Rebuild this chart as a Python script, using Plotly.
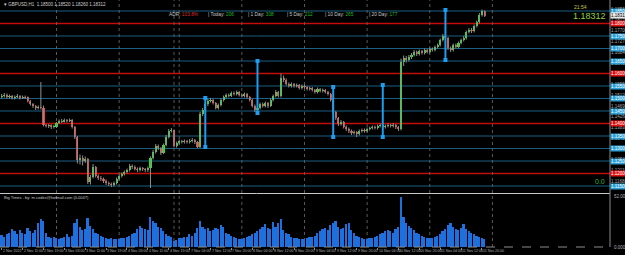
import plotly.graph_objects as go

# ---------------- data ----------------
opens = [
1.1506,1.1510,1.1514,1.1506,1.1510,1.1502,1.1506,1.1510,1.1502,1.1506,
1.1505,1.1490,1.1478,1.1470,1.1462,1.1466,1.1464,1.1394,1.1390,1.1392,
1.1386,1.1388,1.1402,1.1410,1.1408,1.1414,1.1410,1.1414,1.1386,1.1346,
1.1254,1.1262,1.1250,1.1258,1.1166,1.1186,1.1226,1.1190,1.1182,1.1178,
1.1170,1.1162,1.1158,1.1154,1.1162,1.1178,1.1190,1.1198,1.1206,1.1214,
1.1230,1.1226,1.1218,1.1214,1.1222,1.1218,1.1214,1.1222,1.1262,1.1286,
1.1310,1.1302,1.1282,1.1314,1.1346,1.1370,1.1374,1.1310,1.1322,1.1330,
1.1326,1.1330,1.1326,1.1330,1.1334,1.1326,1.1306,1.1438,1.1454,1.1478,
1.1490,1.1494,1.1482,1.1462,1.1474,1.1494,1.1506,1.1514,1.1510,1.1522,
1.1518,1.1526,1.1514,1.1510,1.1518,1.1506,1.1494,1.1470,1.1454,1.1462,
1.1478,1.1470,1.1482,1.1470,1.1494,1.1510,1.1526,1.1510,1.1582,1.1574,
1.1558,1.1550,1.1558,1.1550,1.1554,1.1542,1.1550,1.1546,1.1538,1.1542,
1.1534,1.1526,1.1538,1.1530,1.1534,1.1526,1.1518,1.1494,1.1446,1.1422,
1.1398,1.1406,1.1386,1.1378,1.1370,1.1362,1.1366,1.1358,1.1370,1.1374,
1.1370,1.1378,1.1382,1.1386,1.1382,1.1390,1.1394,1.1386,1.1390,1.1394,
1.1390,1.1394,1.1386,1.1378,1.1646,1.1662,1.1654,1.1666,1.1674,1.1686,
1.1678,1.1690,1.1682,1.1694,1.1686,1.1698,1.1694,1.1706,1.1714,1.1734,
1.1750,1.1742,1.1702,1.1694,1.1714,1.1706,1.1722,1.1734,1.1742,1.1766,
1.1774,1.1770,1.1790,1.1806,1.1834,1.1850]

closes = [
1.1510,1.1514,1.1506,1.1510,1.1502,1.1506,1.1510,1.1502,1.1506,1.1505,
1.1490,1.1478,1.1470,1.1462,1.1466,1.1464,1.1394,1.1390,1.1392,1.1386,
1.1388,1.1402,1.1410,1.1408,1.1414,1.1410,1.1414,1.1386,1.1346,1.1254,
1.1262,1.1250,1.1258,1.1166,1.1186,1.1226,1.1190,1.1182,1.1178,1.1170,
1.1162,1.1158,1.1154,1.1162,1.1178,1.1190,1.1198,1.1206,1.1214,1.1230,
1.1226,1.1218,1.1214,1.1222,1.1218,1.1214,1.1222,1.1262,1.1286,1.1310,
1.1302,1.1282,1.1314,1.1346,1.1370,1.1374,1.1310,1.1322,1.1330,1.1326,
1.1330,1.1326,1.1330,1.1334,1.1326,1.1306,1.1438,1.1454,1.1478,1.1490,
1.1494,1.1482,1.1462,1.1474,1.1494,1.1506,1.1514,1.1510,1.1522,1.1518,
1.1526,1.1514,1.1510,1.1518,1.1506,1.1494,1.1470,1.1454,1.1462,1.1478,
1.1470,1.1482,1.1470,1.1494,1.1510,1.1526,1.1510,1.1582,1.1574,1.1558,
1.1550,1.1558,1.1550,1.1554,1.1542,1.1550,1.1546,1.1538,1.1542,1.1534,
1.1526,1.1538,1.1530,1.1534,1.1526,1.1518,1.1494,1.1446,1.1422,1.1398,
1.1406,1.1386,1.1378,1.1370,1.1362,1.1366,1.1358,1.1370,1.1374,1.1370,
1.1378,1.1382,1.1386,1.1382,1.1390,1.1394,1.1386,1.1390,1.1394,1.1390,
1.1394,1.1386,1.1378,1.1646,1.1662,1.1654,1.1666,1.1674,1.1686,1.1678,
1.1690,1.1682,1.1694,1.1686,1.1698,1.1694,1.1706,1.1714,1.1734,1.1750,
1.1742,1.1702,1.1694,1.1714,1.1706,1.1722,1.1734,1.1742,1.1766,1.1774,
1.1770,1.1790,1.1806,1.1834,1.1850,1.18312]

highs = [
1.1518,1.1522,1.1520,1.1516,1.1514,1.1512,1.1518,1.1514,1.1512,1.1512,
1.1508,1.1494,1.1482,1.1474,1.1472,1.1566,1.1472,1.1398,1.1398,1.1396,
1.1394,1.1406,1.1416,1.1418,1.1420,1.1418,1.1420,1.1418,1.1390,1.1350,
1.1276,1.1272,1.1268,1.1262,1.1194,1.1238,1.1230,1.1196,1.1190,1.1184,
1.1176,1.1168,1.1164,1.1168,1.1184,1.1196,1.1204,1.1212,1.1220,1.1238,
1.1236,1.1232,1.1224,1.1228,1.1226,1.1222,1.1228,1.1268,1.1294,1.1318,
1.1316,1.1306,1.1320,1.1354,1.1378,1.1382,1.1376,1.1328,1.1336,1.1334,
1.1336,1.1334,1.1338,1.1342,1.1338,1.1330,1.1446,1.1462,1.1484,1.1498,
1.1502,1.1498,1.1486,1.1480,1.1500,1.1512,1.1520,1.1520,1.1528,1.1528,
1.1532,1.1530,1.1520,1.1524,1.1522,1.1510,1.1498,1.1476,1.1470,1.1484,
1.1484,1.1488,1.1486,1.1500,1.1516,1.1534,1.1530,1.1600,1.1592,1.1580,
1.1564,1.1564,1.1562,1.1560,1.1558,1.1556,1.1556,1.1550,1.1548,1.1546,
1.1538,1.1544,1.1542,1.1540,1.1538,1.1530,1.1522,1.1498,1.1450,1.1426,
1.1414,1.1410,1.1392,1.1384,1.1376,1.1372,1.1370,1.1376,1.1380,1.1380,
1.1384,1.1388,1.1392,1.1392,1.1396,1.1400,1.1398,1.1396,1.1400,1.1398,
1.1402,1.1398,1.1390,1.1660,1.1672,1.1670,1.1674,1.1682,1.1694,1.1692,
1.1696,1.1694,1.1700,1.1698,1.1704,1.1704,1.1712,1.1720,1.1740,1.1758,
1.1756,1.1746,1.1708,1.1720,1.1720,1.1728,1.1740,1.1750,1.1772,1.1782,
1.1782,1.1796,1.1812,1.1842,1.1856,1.1852]

lows = [
1.1500,1.1504,1.1500,1.1500,1.1496,1.1496,1.1502,1.1496,1.1498,1.1498,
1.1484,1.1472,1.1462,1.1454,1.1456,1.1456,1.1388,1.1384,1.1382,1.1378,
1.1380,1.1382,1.1398,1.1402,1.1404,1.1404,1.1406,1.1380,1.1338,1.1240,
1.1236,1.1232,1.1242,1.1158,1.1156,1.1180,1.1184,1.1174,1.1170,1.1162,
1.1154,1.1150,1.1146,1.1148,1.1156,1.1172,1.1184,1.1192,1.1200,1.1208,
1.1218,1.1212,1.1206,1.1208,1.1210,1.1206,1.1206,1.1142,1.1256,1.1280,
1.1294,1.1274,1.1278,1.1308,1.1340,1.1364,1.1304,1.1304,1.1316,1.1320,
1.1320,1.1320,1.1320,1.1324,1.1318,1.1302,1.1302,1.1430,1.1448,1.1470,
1.1484,1.1476,1.1456,1.1456,1.1468,1.1488,1.1500,1.1504,1.1506,1.1512,
1.1512,1.1508,1.1504,1.1504,1.1500,1.1488,1.1464,1.1446,1.1448,1.1456,
1.1464,1.1464,1.1462,1.1466,1.1488,1.1504,1.1504,1.1504,1.1566,1.1552,
1.1544,1.1544,1.1544,1.1544,1.1536,1.1536,1.1540,1.1532,1.1532,1.1528,
1.1520,1.1520,1.1524,1.1524,1.1520,1.1512,1.1488,1.1438,1.1414,1.1390,
1.1392,1.1380,1.1370,1.1362,1.1354,1.1356,1.1346,1.1352,1.1364,1.1364,
1.1364,1.1372,1.1376,1.1376,1.1376,1.1384,1.1380,1.1380,1.1384,1.1384,
1.1384,1.1378,1.1370,1.1372,1.1630,1.1644,1.1648,1.1658,1.1668,1.1670,
1.1672,1.1676,1.1676,1.1680,1.1680,1.1688,1.1688,1.1700,1.1708,1.1728,
1.1736,1.1694,1.1686,1.1688,1.1700,1.1700,1.1716,1.1728,1.1736,1.1760,
1.1762,1.1764,1.1784,1.1800,1.1828,1.1826]

volumes = [
12,10,13,14,18,16,13,17,14,13,19,16,14,17,24,28,26,14,10,9,10,
9,8,9,10,13,10,11,24,28,20,17,18,29,21,18,14,13,11,10,9,8,9,8,8,
8,9,9,10,11,13,14,18,21,19,18,17,30,26,24,20,19,16,13,11,10,
6,7,
9,9,10,10,13,11,14,19,26,20,18,19,16,17,19,18,22,20,14,13,11,10,9,8,
8,9,10,11,13,14,16,18,20,23,19,18,25,20,24,28,17,14,13,10,9,9,8,8,
8,9,10,10,11,14,16,18,19,17,22,24,26,20,18,19,23,24,17,14,11,10,9,8,
8,9,9,10,11,13,14,16,17,16,14,18,20,50,30,24,21,19,17,14,13,11,10,9,
9,9,10,11,13,16,18,22,24,20,18,17,19,23,18,16,14,13,11,10,9,8]

# time axis labels (bar index -> text)
label_bars = [0, 8, 16, 24, 32, 40, 48, 56, 64, 72, 80, 88, 96, 104, 112,
              120, 128, 136, 144, 152, 160, 168, 176, 184]
label_texts = ["2 Nov 2022", "2 Nov 11:00", "2 Nov 19:00", "3 Nov 03:00", "3 Nov 11:00",
               "3 Nov 19:00", "4 Nov 03:00", "4 Nov 11:00", "4 Nov 19:00", "7 Nov 04:00",
               "7 Nov 12:00", "7 Nov 20:00", "8 Nov 04:00", "8 Nov 12:00", "8 Nov 20:00",
               "9 Nov 04:00", "9 Nov 12:00", "9 Nov 20:00", "10 Nov 04:00", "10 Nov 12:00",
               "10 Nov 20:00", "11 Nov 04:00", "11 Nov 12:00", "11 Nov 20:00"]
day_start_bars = [21, 45, 66, 68, 92, 116, 140, 164, 188]

# price levels
levels = [1.1850, 1.1800, 1.1750, 1.1700, 1.1650, 1.1600, 1.1550, 1.1500,
          1.1450, 1.1400, 1.1350, 1.1300, 1.1250, 1.1200, 1.1150]
level_kind = ["blue", "red", "blue", "blue", "blue", "red", "blue", "blue",
              "blue", "red", "blue", "blue", "blue", "red", "blue"]
price_ticks = [1.18568, 1.18138, 1.17708, 1.17278, 1.16848, 1.16418, 1.15988, 1.15558,
               1.15128, 1.14698, 1.14268, 1.13838, 1.13408, 1.12978, 1.12548, 1.12118, 1.11688]
current_price = 1.18312

# ADR vertical range markers
adr_bars = [78, 98, 127, 146, 170]
adr_highs = [1.1502, 1.1650, 1.1546, 1.1554, 1.1854]
adr_lows = [1.1306, 1.1442, 1.1346, 1.1346, 1.1654]

adr_labels = ["ADR:", "| Today:", "| 1 Day:", "| 5 Day:", "| 10 Day:", "| 20 Day:"]
adr_values = ["103.8%", "206", "308", "212", "265", "177"]

# ---------------- styling / layout constants ----------------
W, H = 625, 255
PX_R = 610 / W
MAIN_DOM = [1 - 193 / H, 1.0]
VOL_DOM = [1 - 247 / H, 1 - 194 / H]
XR = [-0.65, 233.05]
YR = [1.1122, 1.1894]
FONT = "Arial, Liberation Sans, sans-serif"
BLUE_LINE = "#1b5f82"
RED_LINE = "#c40c0c"
BOX_BLUE = "#2a9fd6"
BOX_RED = "#e01010"

bars = list(range(len(closes)))

fig = go.Figure()

# wicks
wx, wy = [], []
for i, h, l in zip(bars, highs, lows):
    wx += [i, i, None]
    wy += [l, h, None]
fig.add_trace(go.Scatter(x=wx, y=wy, mode="lines", line=dict(color="#8e8e8e", width=1),
                         hoverinfo="skip", xaxis="x", yaxis="y"))

# bodies
body_base = [min(o, c) for o, c in zip(opens, closes)]
body_h = [max(abs(c - o), 0.00008) for o, c in zip(opens, closes)]
body_col = ["#30e030" if c >= o else "#e04848" for o, c in zip(opens, closes)]
fig.add_trace(go.Bar(x=bars, y=body_h, base=body_base, width=0.8,
                     marker=dict(color=body_col, line=dict(width=0)),
                     xaxis="x", yaxis="y", hoverinfo="skip"))

# ADR markers
ax, ay = [], []
for b, h, l in zip(adr_bars, adr_highs, adr_lows):
    ax += [b, b, None]
    ay += [l, h, None]
fig.add_trace(go.Scatter(x=ax, y=ay, mode="lines+markers",
                         line=dict(color="#1e9cf0", width=2),
                         marker=dict(symbol="square", size=4, color="#1e9cf0"),
                         xaxis="x", yaxis="y", hoverinfo="skip"))

# volume
fig.add_trace(go.Bar(x=bars, y=volumes, width=0.65, marker=dict(color="#1f6fdc", line=dict(width=0)),
                     xaxis="x2", yaxis="y2", hoverinfo="skip"))

shapes = []
for lv, k in zip(levels, level_kind):
    shapes.append(dict(type="line", xref="paper", yref="y", x0=0, x1=PX_R, y0=lv, y1=lv,
                       line=dict(color=RED_LINE if k == "red" else BLUE_LINE,
                                 width=1.6 if k == "red" else 1), layer="below"))
for b in day_start_bars:
    shapes.append(dict(type="line", xref="x", yref="paper", x0=b, x1=b,
                       y0=VOL_DOM[0], y1=1, line=dict(color="#5a5a5a", width=1, dash="dot"),
                       layer="below"))
# panel separator
shapes.append(dict(type="line", xref="paper", yref="paper", x0=0, x1=PX_R,
                   y0=1 - 193.5 / H, y1=1 - 193.5 / H, line=dict(color="#c8c8c8", width=1)))
# right axis line
shapes.append(dict(type="line", xref="paper", yref="paper", x0=PX_R, x1=PX_R,
                   y0=VOL_DOM[0], y1=1, line=dict(color="#8c8c8c", width=1)))
# bottom axis
shapes.append(dict(type="line", xref="paper", yref="paper", x0=0, x1=PX_R,
                   y0=VOL_DOM[0], y1=VOL_DOM[0], line=dict(color="#8c8c8c", width=1, dash="dash")))

ann = []
# x labels
for b, t in zip(label_bars, label_texts):
    ann.append(dict(x=b, y=1 - 250.5 / H, xref="x2", yref="paper", text=t, showarrow=False,
                    xanchor="left", yanchor="middle", xshift=-1,
                    font=dict(size=3.6, color="#b0b0b0", family=FONT)))
# level boxes
for lv, k in zip(levels, level_kind):
    ann.append(dict(x=PX_R, y=lv, xref="paper", yref="y", text=f"{lv:.5f}", showarrow=False,
                    xanchor="left", yanchor="middle", bgcolor=BOX_RED if k == "red" else BOX_BLUE,
                    borderpad=0, font=dict(size=4.5, color="#ffffff", family=FONT)))
# current price box
ann.append(dict(x=PX_R, y=current_price, xref="paper", yref="y", text=f"{current_price:.5f}",
                showarrow=False, xanchor="left", yanchor="middle", bgcolor="#e8e8e8", borderpad=0,
                font=dict(size=4.5, color="#000000", family=FONT)))
# title
ann.append(dict(x=2 / W, y=1 - 4.5 / H, xref="paper", yref="paper",
                text="▾ GBPUSD,H1  1.18500 1.18520 1.18260 1.18312", showarrow=False,
                xanchor="left", yanchor="middle", font=dict(size=4.5, color="#d0d0d0", family=FONT)))
# ADR text: one annotation per label/value pair
lab_x = [167, 206, 246, 285, 323, 367]
for i, (lt, vt) in enumerate(zip(adr_labels, adr_values)):
    vcol = "#d83030" if i == 0 else "#22b822"
    ann.append(dict(x=lab_x[i] / W, y=1 - 14 / H, xref="paper", yref="paper",
                    text=f"{lt} <span style='color:{vcol}'>{vt}</span>",
                    showarrow=False, xanchor="left", yanchor="middle",
                    font=dict(size=4.8, color="#c8c8c8", family=FONT)))
# clock + big price
ann.append(dict(x=572 / W, y=1 - 7 / H, xref="paper", yref="paper", text="21:54", showarrow=False,
                xanchor="left", yanchor="middle", font=dict(size=5, color="#c8c83c", family=FONT)))
ann.append(dict(x=571 / W, y=1 - 15.5 / H, xref="paper", yref="paper", text=f"{current_price:.5f}",
                showarrow=False, xanchor="left", yanchor="middle",
                font=dict(size=9, color="#96d232", family=FONT)))
ann.append(dict(x=593 / W, y=1 - 181 / H, xref="paper", yref="paper", text="0.0", showarrow=False,
                xanchor="left", yanchor="middle", font=dict(size=7, color="#3cb43c", family=FONT)))
# indicator caption
ann.append(dict(x=2 / W, y=1 - 197 / H, xref="paper", yref="paper",
                text="Big Times - by: m.codes@hotmail.com (0.0047)", showarrow=False,
                xanchor="left", yanchor="middle", font=dict(size=4, color="#c8c8c8", family=FONT)))
# volume axis labels
ann.append(dict(x=PX_R, y=1 - 196 / H, xref="paper", yref="paper", text="52.00", showarrow=False,
                xanchor="left", yanchor="middle", xshift=2, font=dict(size=4.5, color="#b0b0b0", family=FONT)))
ann.append(dict(x=PX_R, y=VOL_DOM[0], xref="paper", yref="paper", text="0.000", showarrow=False,
                xanchor="left", yanchor="middle", xshift=2, font=dict(size=4.5, color="#b0b0b0", family=FONT)))

fig.update_layout(
    width=W, height=H, margin=dict(l=0, r=0, t=0, b=0),
    paper_bgcolor="#000000", plot_bgcolor="#000000",
    showlegend=False, bargap=0, barmode="overlay",
    xaxis=dict(domain=[0, PX_R], range=XR, visible=False, anchor="y"),
    yaxis=dict(domain=MAIN_DOM, range=YR, side="right", anchor="x", tickvals=price_ticks,
               ticktext=[f"{v:.5f}" for v in price_ticks], showgrid=False, zeroline=False,
               showline=False, ticks="", automargin=False,
               tickfont=dict(size=4.5, color="#a8a8a8", family=FONT)),
    xaxis2=dict(domain=[0, PX_R], range=XR, anchor="y2", showgrid=False, zeroline=False,
                showline=False, showticklabels=False, ticks="outside", tickvals=label_bars,
                ticklen=2, tickcolor="#8c8c8c", automargin=False),
    yaxis2=dict(domain=VOL_DOM, range=[0, 53], anchor="x2", visible=False),
    shapes=shapes, annotations=ann,
)

fig.write_html("out.html")
